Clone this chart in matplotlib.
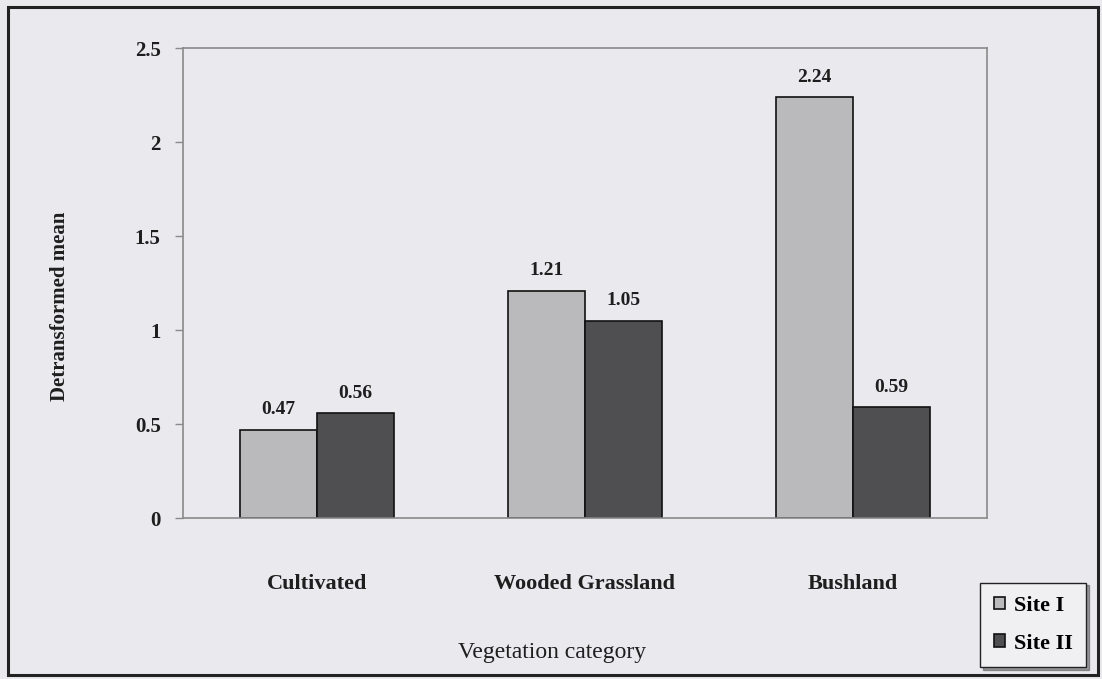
import matplotlib
matplotlib.use("Agg")
import matplotlib.pyplot as plt
import matplotlib.patches as mpatches
import numpy as np

BG = "#e9e9ee"
SITE1 = "#bababd"
SITE2 = "#4f4f52"
SPINE = "#8a8a8a"
TXT = "#1e1e1e"

categories = ["Cultivated", "Wooded Grassland", "Bushland"]
site_1 = [0.47, 1.21, 2.24]
site_2 = [0.56, 1.05, 0.59]
series_names = ["Site I", "Site II"]
y_ticks = [0, 0.5, 1, 1.5, 2, 2.5]
y_tick_labels = ["0", "0.5", "1", "1.5", "2", "2.5"]

plt.rcParams["font.family"] = ["Liberation Serif", "DejaVu Serif"]

fig = plt.figure(figsize=(11.02, 6.79), dpi=100, facecolor=BG)
ax = fig.add_axes([0.166, 0.237, 0.7296, 0.6922])
ax.set_facecolor(BG)

x = np.arange(len(categories))
w = 0.288
b1 = ax.bar(x - w / 2, site_1, w, color=SITE1, edgecolor="#111111", linewidth=1.2, label=series_names[0])
b2 = ax.bar(x + w / 2, site_2, w, color=SITE2, edgecolor="#111111", linewidth=1.2, label=series_names[1])

# value labels above bars
for bars, vals in [(b1, site_1), (b2, site_2)]:
    for bar, v in zip(bars, vals):
        ax.text(bar.get_x() + bar.get_width() / 2, v + 0.06, f"{v:.2f}",
                ha="center", va="bottom", fontsize=14, fontweight="bold", color=TXT)

ax.set_xlim(-0.5, 2.5)
ax.set_ylim(0, 2.5)
ax.set_yticks(y_ticks)
ax.set_yticklabels(y_tick_labels)
ax.set_xticks(x)
ax.set_xticklabels(categories, fontsize=16, fontweight="bold")
ax.tick_params(axis="x", length=0, pad=40, colors=TXT)
ax.tick_params(axis="y", length=6, width=1, color=SPINE, labelsize=15, pad=10, labelcolor=TXT)
for lbl in ax.get_yticklabels():
    lbl.set_fontweight("bold")
for s in ax.spines.values():
    s.set_color(SPINE)
    s.set_linewidth(1.2)

ax.set_ylabel("Detransformed mean", fontsize=15, fontweight="bold", color=TXT)
ax.yaxis.set_label_coords(-0.153, 0.451)
ax.yaxis.label.set_verticalalignment("center")

fig.text(552 / 1102, 1 - 658 / 679, "Vegetation category", ha="center", va="baseline",
         fontsize=17, color=TXT)

# outer frame
fig.patches.append(mpatches.Rectangle((8 / 1102, 4 / 679), 1090 / 1102, 668 / 679,
                                      transform=fig.transFigure, fill=False,
                                      edgecolor="#222222", linewidth=2.2))

leg = fig.legend(handles=[b1, b2], loc="lower right",
                 bbox_to_anchor=(1086 / 1102, 1 - 667 / 679),
                 prop={"family": "Liberation Serif", "weight": "bold", "size": 16},
                 frameon=True, shadow=True, fancybox=False, handlelength=0.5,
                 handleheight=0.5, handletextpad=0.4, borderpad=0.6,
                 labelspacing=0.8, borderaxespad=0)
leg.get_frame().set_edgecolor("#222222")
leg.get_frame().set_facecolor("#f0f0f3")
leg.get_frame().set_alpha(1)

fig.savefig("out.png", dpi=100, facecolor=BG)
